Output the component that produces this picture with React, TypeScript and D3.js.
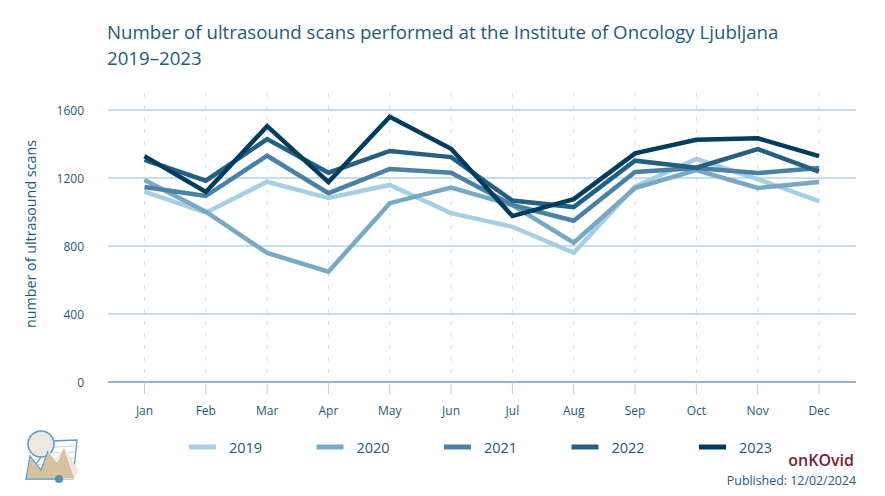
import * as d3 from 'd3';

const months = ['Jan', 'Feb', 'Mar', 'Apr', 'May', 'Jun', 'Jul', 'Aug', 'Sep', 'Oct', 'Nov', 'Dec'];
const years = ['2019', '2020', '2021', '2022', '2023'];
const yTicks = [0, 400, 800, 1200, 1600];

const scans2019 = [1120, 996, 1178, 1082, 1159, 993, 913, 760, 1150, 1312, 1194, 1064];
const scans2020 = [1188, 1002, 759, 649, 1052, 1143, 1041, 819, 1141, 1247, 1141, 1176];
const scans2021 = [1147, 1094, 1331, 1111, 1253, 1231, 1041, 949, 1235, 1259, 1229, 1259];
const scans2022 = [1306, 1184, 1429, 1231, 1359, 1323, 1067, 1029, 1302, 1261, 1370, 1237];
const scans2023 = [1329, 1118, 1505, 1176, 1560, 1372, 976, 1076, 1345, 1425, 1434, 1329];
const allScans = [scans2019, scans2020, scans2021, scans2022, scans2023];

const colors = ['#a6cee4', '#77a9c5', '#4a81a4', '#256082', '#003c5e'];
const textColor = '#1f5a7a';
const gridColor = '#b5d5e6';
const font = '"Open Sans", sans-serif';

const x = d3.scalePoint<string>().domain(months).range([144.5, 819]);
const y = d3.scaleLinear().domain([0, 1600]).range([382, 110]);

const line = d3
  .line<number>()
  .x((_, i) => x(months[i]) as number)
  .y((d) => y(d));

const legendX = d3.scalePoint<string>().domain(years).range([189, 699]);

const App = () => {
  return (
    <svg
      width={885}
      height={496}
      style={{ position: 'absolute', top: 0, left: 0, display: 'block', fontFamily: font }}
    >
      <rect width={885} height={496} fill="#ffffff" />

      <text x={107} y={38.5} fontSize={18.67} fill={textColor}>
        Number of ultrasound scans performed at the Institute of Oncology Ljubljana
      </text>
      <text x={107} y={65} fontSize={18.67} fill={textColor}>
        2019–2023
      </text>

      {/* vertical month guides */}
      {months.map((m) => (
        <line
          key={m}
          x1={x(m)}
          x2={x(m)}
          y1={93}
          y2={382}
          stroke={gridColor}
          strokeOpacity={0.7}
          strokeWidth={1}
          strokeDasharray="4 8"
        />
      ))}

      {/* horizontal grid */}
      {yTicks.map((t) => (
        <g key={t}>
          <line
            x1={108}
            x2={856}
            y1={y(t)}
            y2={y(t)}
            stroke={t === 0 ? '#6f9fb8' : gridColor}
            strokeWidth={t === 0 ? 1.5 : 1.3}
          />
          <text x={84} y={y(t) + 4.5} fontSize={12} textAnchor="end" fill={textColor}>
            {t}
          </text>
        </g>
      ))}

      {/* axis ticks + month labels */}
      {months.map((m) => (
        <g key={m}>
          <line x1={x(m)} x2={x(m)} y1={382} y2={394} stroke={gridColor} strokeWidth={1} />
          <text x={x(m)} y={415} fontSize={12} textAnchor="middle" fill={textColor}>
            {m}
          </text>
        </g>
      ))}

      <text
        transform="translate(36,234) rotate(-90)"
        fontSize={14.3}
        textAnchor="middle"
        fill={textColor}
      >
        number of ultrasound scans
      </text>

      {allScans.map((values, i) => (
        <path
          key={years[i]}
          d={line(values) || ''}
          fill="none"
          stroke={colors[i]}
          strokeWidth={4.5}
          strokeLinejoin="miter"
        />
      ))}

      {/* legend */}
      {years.map((yr, i) => (
        <g key={yr} transform={`translate(${legendX(yr)},447)`}>
          <line x1={0} x2={27} y1={0} y2={0} stroke={colors[i]} strokeWidth={5} />
          <text x={40} y={5.5} fontSize={14.5} fill={textColor}>
            {yr}
          </text>
        </g>
      ))}

      {/* logo */}
      <g>
        <path d="M52 441 L77 440 L73 479 L26 479 Z" fill="#ffffff" stroke="#5b9bbf" strokeWidth={1.3} />
        <path d="M54 447 L75 446 M50 453 L74 452 M46 459 L73 458 M34 465 L72 464" stroke="#bcd7e6" strokeWidth={1} />
        <circle cx={41} cy={444} r={13} fill="#ece8e3" stroke="#5b9bbf" strokeWidth={1.5} />
        <path d="M64 447 L78 470 L75 479 L40 479 Z" fill="#ece5da" />
        <path
          d="M26 479 L30 456 L41 470 L48 451 L57 462 L64 447 L75 479 Z"
          fill="#d6c1a2"
          stroke="#ffffff"
          strokeWidth={0.8}
        />
        <path d="M26 479 L30 456 L41 470 L48 451" fill="none" stroke="#5b9bbf" strokeWidth={1.2} />
        <path d="M26 479 L58 479" stroke="#5b9bbf" strokeWidth={1.3} />
        <circle cx={59} cy={479} r={4} fill="#4f94bb" />
      </g>

      <text x={854} y={466} fontSize={16} fontWeight={600} textAnchor="end" fill="#7c1c32">
        onKOvid
      </text>
      <text x={856} y={485} fontSize={12.4} textAnchor="end" fill={textColor}>
        Published: 12/02/2024
      </text>
    </svg>
  );
};

export default App;
